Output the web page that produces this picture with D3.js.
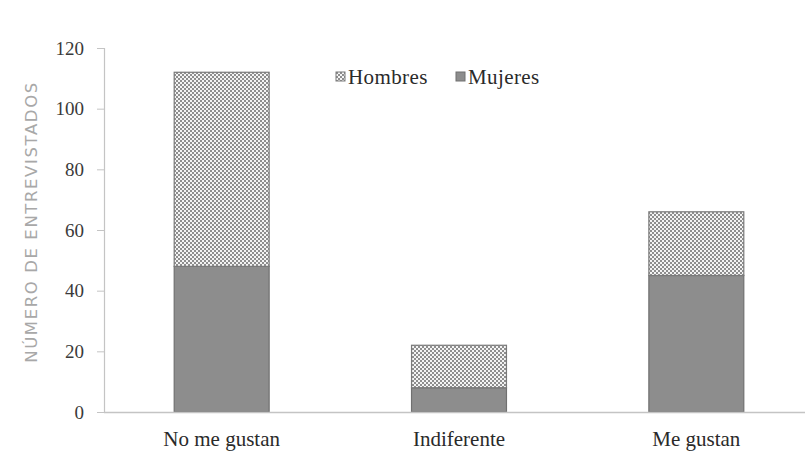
<!DOCTYPE html>
<html>
<head>
<meta charset="utf-8">
<script src="https://cdn.jsdelivr.net/npm/d3@7"></script>
<style>
  html, body { margin: 0; padding: 0; background: #fff; }
  svg { display: block; }
</style>
</head>
<body>
<script>
// Survey responses, stacked by sex
const categories = ["No me gustan", "Indiferente", "Me gustan"];
const mujeres = [48, 8, 45];
const hombres = [64, 14, 21];
const seriesNames = ["Mujeres", "Hombres"];
const yTicks = [0, 20, 40, 60, 80, 100, 120];

const width = 805, height = 464;
const svg = d3.select("body").append("svg")
  .attr("width", width).attr("height", height);

// Fine checker texture for the upper segment
const defs = svg.append("defs");
const pat = defs.append("pattern")
  .attr("id", "checker")
  .attr("patternUnits", "userSpaceOnUse")
  .attr("width", 4).attr("height", 4);
pat.append("rect").attr("width", 4).attr("height", 4).attr("fill", "#f4f4f4");
pat.append("rect").attr("x", 0).attr("y", 0).attr("width", 2).attr("height", 2).attr("fill", "#8e8e8e");
pat.append("rect").attr("x", 2).attr("y", 2).attr("width", 2).attr("height", 2).attr("fill", "#8e8e8e");

const x = d3.scaleBand()
  .domain(categories)
  .range([103, 815])
  .paddingInner(0.6)
  .paddingOuter(0.3);

const y = d3.scaleLinear()
  .domain([0, 120])
  .range([412, 48]);

const serif = "'Liberation Serif', 'DejaVu Serif', serif";

// Y axis
const yAxis = svg.append("g")
  .attr("transform", "translate(104,0)")
  .call(d3.axisLeft(y).tickValues(yTicks).tickSize(7).tickPadding(13));
yAxis.select(".domain").attr("stroke", "#c4c4c4").attr("stroke-width", 1.2);
yAxis.selectAll(".tick line").attr("stroke", "#c4c4c4");
yAxis.selectAll(".tick text")
  .attr("font-family", serif).attr("font-size", 19).attr("fill", "#3a3a3a");

// Stacked bars
const data = categories.map((c, i) => ({ cat: c, Mujeres: mujeres[i], Hombres: hombres[i] }));
const stacked = d3.stack().keys(seriesNames)(data);
const fills = { Mujeres: "#8d8d8d", Hombres: "url(#checker)" };
const strokes = { Mujeres: "#707070", Hombres: "#7a7a7a" };

svg.append("g").selectAll("g")
  .data(stacked)
  .join("g")
  .selectAll("rect")
  .data(d => d.map(v => ({ key: d.key, v })))
  .join("rect")
  .attr("x", d => x(d.v.data.cat))
  .attr("width", x.bandwidth())
  .attr("y", d => y(d.v[1]))
  .attr("height", d => y(d.v[0]) - y(d.v[1]))
  .attr("fill", d => fills[d.key])
  .attr("stroke", d => strokes[d.key])
  .attr("stroke-width", 1.2);

// X axis baseline and category labels
const xAxis = svg.append("g")
  .attr("transform", "translate(0,412)")
  .call(d3.axisBottom(x).tickSize(0).tickPadding(19));
xAxis.select(".domain")
  .attr("d", `M104,0.5H${width}`)
  .attr("stroke", "#c4c4c4").attr("stroke-width", 1.4);
xAxis.selectAll(".tick text")
  .attr("font-family", serif).attr("font-size", 21).attr("fill", "#2a2a2a");

// Y axis title
svg.append("text")
  .attr("transform", "translate(37,222) rotate(-90)")
  .attr("text-anchor", "middle")
  .attr("font-family", "'DejaVu Sans', sans-serif")
  .attr("font-size", 16.5)
  .attr("letter-spacing", 1.6)
  .attr("fill", "#a8a8a8")
  .text("NÚMERO DE ENTREVISTADOS");

// Legend
const legendItems = [
  { name: "Hombres", fill: "url(#checker)", stroke: "#7a7a7a", x: 336 },
  { name: "Mujeres", fill: "#8d8d8d", stroke: "#707070", x: 456 }
];
const lg = svg.append("g").selectAll("g").data(legendItems).join("g")
  .attr("transform", d => `translate(${d.x},72)`);
lg.append("rect")
  .attr("width", 9).attr("height", 9)
  .attr("fill", d => d.fill).attr("stroke", d => d.stroke);
lg.append("text")
  .attr("x", 12).attr("y", 12)
  .attr("font-family", serif).attr("font-size", 21)
  .attr("letter-spacing", 0.4).attr("fill", "#2a2a2a")
  .text(d => d.name);
</script>
</body>
</html>
